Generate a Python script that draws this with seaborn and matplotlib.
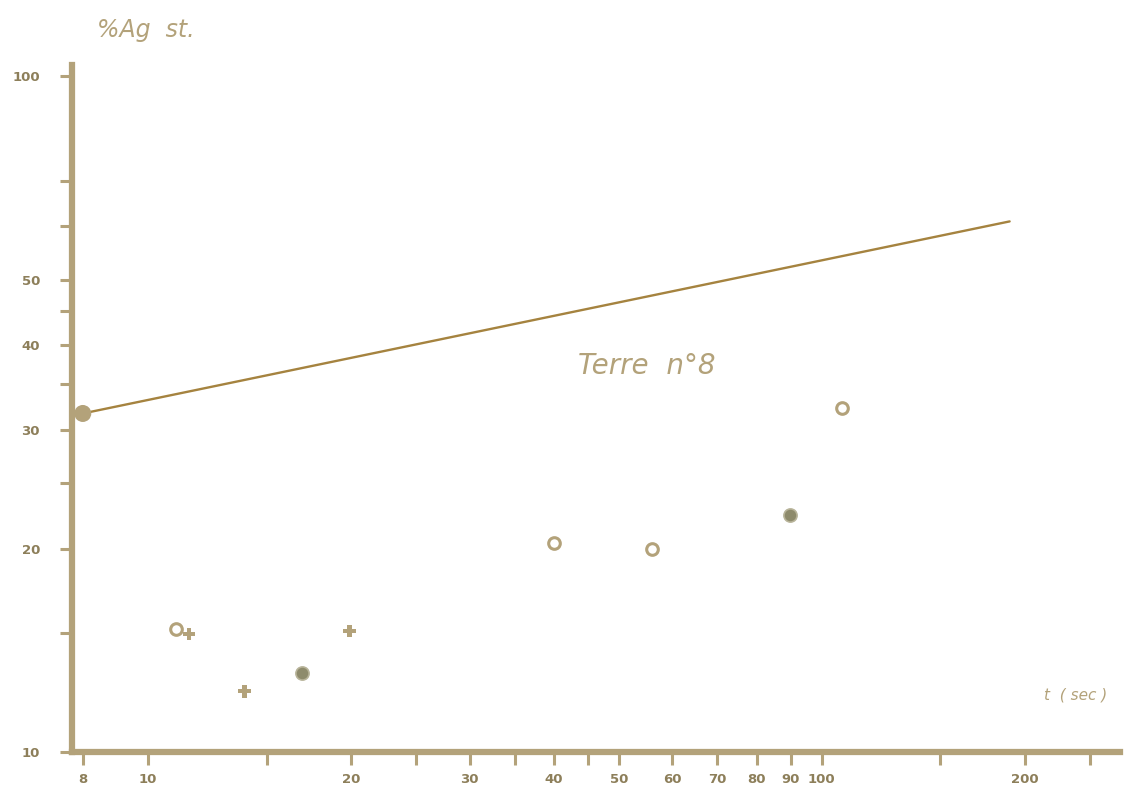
import matplotlib
matplotlib.use("Agg")
import matplotlib.pyplot as plt
import seaborn as sns
import pandas as pd
from matplotlib.ticker import FixedLocator, FixedFormatter, NullLocator

# Measured silver retention vs. time (log-log), soil sample no. 8
open_t = [11.0, 40.0, 56.0, 107.0]
open_pct = [15.2, 20.4, 20.0, 32.3]
filled_t = [16.9, 89.6]
filled_pct = [13.1, 22.4]
cross_t = [11.5, 13.9, 19.9]
cross_pct = [14.95, 12.3, 15.1]
fit_t = [8.0, 190.0]
fit_pct = [31.7, 61.0]

x_ticks = [8, 10, 15, 20, 25, 30, 35, 40, 45, 50, 60, 70, 80, 90, 100, 150, 200, 250]
x_labels = ["8", "10", "", "20", "", "30", "", "40", "", "50", "60", "70", "80", "90", "100", "", "200", ""]
y_ticks = [10, 15, 20, 25, 30, 35, 40, 45, 50, 60, 70, 100]
y_labels = ["10", "", "20", "", "30", "", "40", "", "50", "", "", "100"]

INK = "#b3a27a"
INK_DARK = "#8d7f5a"
LINE = "#a5833f"
DOT = "#8e8b6c"

sns.set_theme(style="white")
plt.rcParams["font.family"] = ["DejaVu Sans"]

fig = plt.figure(figsize=(11.37, 7.91), dpi=100)
ax = fig.add_axes([0.0633, 0.0493, 0.9217, 0.8687])

df_open = pd.DataFrame({"t": open_t, "pct": open_pct})
df_filled = pd.DataFrame({"t": filled_t, "pct": filled_pct})
df_cross = pd.DataFrame({"t": cross_t, "pct": cross_pct})
df_fit = pd.DataFrame({"t": fit_t, "pct": fit_pct})

sns.lineplot(data=df_fit, x="t", y="pct", ax=ax, color=LINE, linewidth=1.7)
sns.scatterplot(data=df_fit.iloc[:1], x="t", y="pct", ax=ax, color=INK,
                s=150, edgecolor="none", zorder=5)
sns.scatterplot(data=df_open, x="t", y="pct", ax=ax, marker="o",
                facecolor="white", edgecolor=INK, linewidth=2.2, s=70, zorder=5)
sns.scatterplot(data=df_filled, x="t", y="pct", ax=ax, marker="o",
                color=DOT, edgecolor="#b8b49a", linewidth=1.2, s=90, zorder=5)
sns.scatterplot(data=df_cross, x="t", y="pct", ax=ax, marker="P",
                color=INK, edgecolor="none", s=85, zorder=5)

ax.set_xscale("log")
ax.set_yscale("log")
ax.set_xlim(7.71, 277)
ax.set_ylim(10, 104)

ax.xaxis.set_major_locator(FixedLocator(x_ticks))
ax.xaxis.set_major_formatter(FixedFormatter(x_labels))
ax.xaxis.set_minor_locator(NullLocator())
ax.yaxis.set_major_locator(FixedLocator(y_ticks))
ax.yaxis.set_major_formatter(FixedFormatter(y_labels))
ax.yaxis.set_minor_locator(NullLocator())

for side in ("top", "right"):
    ax.spines[side].set_visible(False)
for side in ("left", "bottom"):
    ax.spines[side].set_color(INK)
    ax.spines[side].set_linewidth(4.5)

ax.tick_params(axis="both", which="major", direction="out", length=9, width=2.2,
               color=INK, labelcolor=INK_DARK, labelsize=9.5, pad=8)
ax.tick_params(axis="x", bottom=True, pad=6)
ax.tick_params(axis="y", left=True, pad=14)
for lbl in ax.get_xticklabels() + ax.get_yticklabels():
    lbl.set_fontweight("bold")

ax.set_xlabel("")
ax.set_ylabel("")
ax.grid(False)

fig.text(0.085, 0.962, "%Ag  st.", color=INK, fontsize=17, ha="left", va="center",
         fontstyle="italic")
ax.text(0.483, 0.562, "Terre  n°8", transform=ax.transAxes, color=INK,
        fontsize=20, fontstyle="italic", ha="left", va="center")
ax.text(0.928, 0.083, "t  ( sec )", transform=ax.transAxes, color=INK,
        fontsize=11, fontstyle="italic", ha="left", va="center")

fig.savefig("out.png", dpi=100, facecolor="white")
